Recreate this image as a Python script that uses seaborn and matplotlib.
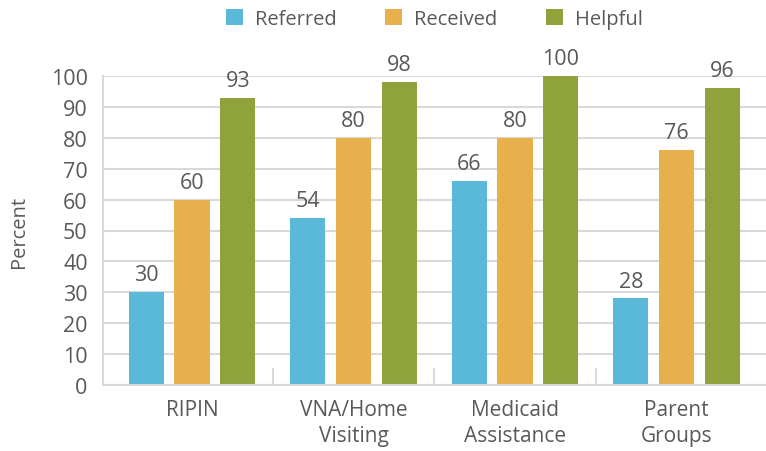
import matplotlib
matplotlib.use("Agg")
import matplotlib.pyplot as plt
import seaborn as sns
import pandas as pd
from matplotlib.ticker import FixedLocator

categories = ["RIPIN", "VNA/Home\nVisiting", "Medicaid\nAssistance", "Parent\nGroups"]
series_names = ["Referred", "Received", "Helpful"]
referred = [30, 54, 66, 28]
received = [60, 80, 80, 76]
helpful = [93, 98, 100, 96]
yticks = list(range(0, 101, 10))
colors = ["#5AB8D8", "#E8AF4D", "#8FA23C"]

sns.set_theme(style="white")
plt.rcParams["font.family"] = ["Open Sans", "DejaVu Sans"]
txt = "#595959"
grid = "#D9D9D9"

rows = []
for name, vals in zip(series_names, [referred, received, helpful]):
    for c, v in zip(categories, vals):
        rows.append({"Category": c, "Series": name, "Percent": v})
df = pd.DataFrame(rows)

fig = plt.figure(figsize=(7.66, 4.52), dpi=100)
ax = fig.add_axes([103/766, 66/452, 663/766, 309/452])

sns.barplot(data=df, x="Category", y="Percent", hue="Series", order=categories,
            hue_order=series_names, palette=colors, width=0.85, gap=0.23,
            saturation=1, linewidth=0, ax=ax, legend=True)

for cont in ax.containers:
    ax.bar_label(cont, padding=5, fontsize=15.5, color=txt)

ax.set_ylim(0, 100)
ax.set_xlim(-0.551, 3.554)
ax.set_yticks(yticks)
ax.yaxis.grid(True, color=grid, linewidth=1.5)
ax.set_axisbelow(True)
for s in ["top", "right"]:
    ax.spines[s].set_visible(False)
for s in ["left", "bottom"]:
    ax.spines[s].set_color(grid)
    ax.spines[s].set_linewidth(1.5)

ax.tick_params(axis="y", length=0, labelsize=15.5, labelcolor=txt, pad=11)
ax.tick_params(axis="x", which="major", length=0, labelsize=15, labelcolor=txt, pad=10)
ax.xaxis.set_minor_locator(FixedLocator([0.5, 1.5, 2.5]))
ax.tick_params(axis="x", which="minor", direction="in", length=12, width=1.5, color=grid, bottom=True)
for lbl in ax.get_xticklabels():
    lbl.set_linespacing(1.3)

ax.set_xlabel("")
ax.set_ylabel("Percent", fontsize=14.5, color=txt, labelpad=16)

handles, labels = ax.get_legend_handles_labels()
ax.legend(handles, labels, loc="upper center", bbox_to_anchor=(0.5, 1.275), ncol=3,
          frameon=False, fontsize=14.5, handlelength=0.85, handleheight=0.85,
          handletextpad=0.6, columnspacing=2.4, labelcolor=txt)

fig.savefig("out.png", dpi=100)
